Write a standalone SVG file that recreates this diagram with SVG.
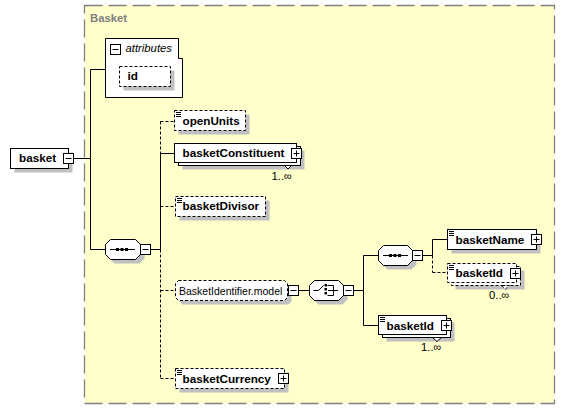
<svg xmlns="http://www.w3.org/2000/svg" width="565" height="410" viewBox="0 0 565 410">
<style>
.bg{fill:#ffffff}
.grp{fill:#ffffcc;stroke:#808080;stroke-width:1.3;stroke-dasharray:18 6}
.box{fill:#ffffff;stroke:#000000;stroke-width:1}
.dbox{fill:#ffffff;stroke:#000000;stroke-width:1;stroke-dasharray:3 2}
.sh{fill:#c0c0c0}
.ln{fill:none;stroke:#000000;stroke-width:1}
.dln{fill:none;stroke:#000000;stroke-width:1;stroke-dasharray:3 2}
.t{font-family:"Liberation Sans",Arial,sans-serif;font-size:11.7px;font-weight:bold;fill:#000000}
.tn{font-family:"Liberation Sans",Arial,sans-serif;font-size:10.5px;fill:#000000}
.tc{font-family:"Liberation Sans",Arial,sans-serif;font-size:11.3px;fill:#000000}
.ti{font-family:"Liberation Sans",Arial,sans-serif;font-size:11.3px;font-style:italic;fill:#000000}
.tg{font-family:"Liberation Sans",Arial,sans-serif;font-size:11.3px;font-weight:bold;fill:#808080}
.dot{fill:#000000}
</style>
<defs>
<g id="minus"><rect x="0.5" y="0.5" width="10" height="10" fill="#ffffff" stroke="#000000"/><path d="M2.5,5.5H8.5" stroke="#000000"/></g>
<g id="plus"><rect x="0.5" y="0.5" width="10" height="10" fill="#ffffff" stroke="#000000"/><path d="M2.5,5.5H8.5M5.5,2.5V8.5" stroke="#000000"/></g>
<g id="lines"><rect x="0" y="0" width="5" height="1" fill="#000000"/><rect x="0" y="2" width="5" height="1" fill="#000000"/><rect x="0" y="4" width="5" height="1" fill="#000000"/></g>
<g id="seqsym"><path d="M0,0.5H25" stroke="#000000"/><rect x="6" y="-1" width="3" height="3" fill="#000000"/><rect x="10.5" y="-1" width="3" height="3" fill="#000000"/><rect x="15" y="-1" width="3" height="3" fill="#000000"/></g>
</defs>
<rect class="bg" x="0" y="0" width="565" height="410"/>
<g id="group-Basket">
<rect class="grp" x="84.5" y="5.5" width="470" height="398"/>
<text class="tg" x="90" y="22">Basket</text>
</g>
<g id="connectors">
<path class="ln" d="M73.5,158.5H90.5M90.5,69.5V249.5M90.5,69.5H105.5M90.5,249.5H105.5"/>
<path class="ln" d="M150.5,249.5H160.5M160.5,153.5V249.5M160.5,153.5H174.5"/>
<path class="dln" d="M160.5,121.5V153.5M160.5,121.5H174.5M160.5,249.5V378.5M160.5,206.5H175.5M160.5,290.5H175.5M160.5,378.5H175.5"/>
<path class="ln" d="M298.5,290.5H309.5M353.5,290.5H363.5M363.5,255.5V325.5M363.5,255.5H378.5M363.5,325.5H378.5"/>
<path class="ln" d="M422.5,255.5H432.5M432.5,239.5V255.5M432.5,239.5H447.5"/>
<path class="dln" d="M432.5,255.5V272.5M432.5,272.5H447.5"/>
</g>
<g id="node-basket">
<rect class="sh" x="14.5" y="152.5" width="58" height="20"/>
<rect class="box" x="10.5" y="148.5" width="58" height="20"/>
<text class="t" x="19" y="162">basket</text>
<use href="#minus" x="63" y="153"/>
</g>
<g id="node-attributes">
<path class="box" d="M105.5,38.5H178.5V58.5H182.5V97.5H105.5Z"/>
<use href="#minus" x="110" y="44"/>
<text class="ti" x="125.5" y="52">attributes</text>
<rect class="sh" x="123.5" y="70.5" width="51" height="20"/>
<rect class="dbox" x="119.5" y="66.5" width="51" height="20"/>
<text class="t" x="127.5" y="80">id</text>
</g>
<g id="node-sequence">
<path class="sh" d="M114.5,243.5H139.5L144.5,248.5V258.5L139.5,263.5H114.5L109.5,258.5V248.5Z"/>
<path class="box" d="M110.5,239.5H135.5L140.5,244.5V254.5L135.5,259.5H110.5L105.5,254.5V244.5Z"/>
<use href="#seqsym" x="110" y="249"/>
<use href="#minus" x="140" y="244"/>
</g>
<g id="node-openUnits">
<rect class="sh" x="178.5" y="114.5" width="71" height="20"/>
<rect class="dbox" x="174.5" y="110.5" width="71" height="20"/>
<use href="#lines" x="176" y="112"/>
<text class="t" x="182.5" y="124.5">openUnits</text>
</g>
<g id="node-basketConstituent">
<rect class="sh" x="182.5" y="150.5" width="122" height="19"/>
<rect class="box" x="178.5" y="146.5" width="122" height="19"/>
<rect class="box" x="174.5" y="143.5" width="122" height="19"/>
<polygon class="box" points="284.5,165.5 288,169 291.5,165.5"/>
<use href="#plus" x="291" y="148"/>
<text class="t" x="182.5" y="157">basketConstituent</text>
<text class="tc" x="271.5" y="180">1..∞</text>
</g>
<g id="node-basketDivisor">
<rect class="sh" x="179.5" y="200.5" width="90" height="20"/>
<rect class="dbox" x="175.5" y="196.5" width="90" height="20"/>
<use href="#lines" x="177" y="198"/>
<text class="t" x="182.5" y="210">basketDivisor</text>
</g>
<g id="node-BasketIdentifier.model">
<path class="sh" d="M182.5,284.5H288.5L291.5,287.5V301.5L288.5,304.5H182.5L179.5,301.5V287.5Z"/>
<path class="dbox" d="M178.5,280.5H284.5L287.5,283.5V297.5L284.5,300.5H178.5L175.5,297.5V283.5Z"/>
<text class="tn" x="179" y="294.5">BasketIdentifier.model</text>
<use href="#minus" x="288" y="285"/>
</g>
<g id="node-choice">
<path class="sh" d="M318.5,284.5H342.5L347.5,289.5V299.5L342.5,304.5H318.5L313.5,299.5V289.5Z"/>
<path class="box" d="M314.5,280.5H338.5L343.5,285.5V295.5L338.5,300.5H314.5L309.5,295.5V285.5Z"/>
<path class="ln" d="M313.5,290.5H318.5L323.5,285.5M327.5,285.5H333.5V295.5H327.5M328,290.5H338"/>
<rect class="dot" x="324.5" y="284" width="2.5" height="2.5"/>
<rect class="dot" x="324.5" y="288" width="2.5" height="2.5"/>
<rect class="dot" x="324.5" y="292" width="2.5" height="2.5"/>
<use href="#minus" x="343" y="285"/>
</g>
<g id="node-sequence2">
<path class="sh" d="M387.5,249.5H411.5L416.5,254.5V264.5L411.5,269.5H387.5L382.5,264.5V254.5Z"/>
<path class="box" d="M383.5,245.5H407.5L412.5,250.5V260.5L407.5,265.5H383.5L378.5,260.5V250.5Z"/>
<use href="#seqsym" x="383" y="255"/>
<use href="#minus" x="412" y="250"/>
</g>
<g id="node-basketName">
<rect class="sh" x="451.5" y="233.5" width="89" height="20"/>
<rect class="box" x="447.5" y="229.5" width="89" height="20"/>
<use href="#lines" x="449" y="231"/>
<text class="t" x="455.5" y="243.5">basketName</text>
<use href="#plus" x="531" y="234"/>
</g>
<g id="node-basketId-optional">
<rect class="sh" x="455.5" y="270.5" width="69" height="19"/>
<rect class="dbox" x="451.5" y="266.5" width="69" height="19"/>
<rect class="dbox" x="447.5" y="263.5" width="69" height="19"/>
<polygon class="dbox" points="501.5,285.5 505.5,289 509.5,285.5"/>
<use href="#lines" x="449" y="265"/>
<text class="t" x="455.5" y="277">basketId</text>
<use href="#plus" x="510" y="268"/>
<text class="tc" x="489" y="298.5">0..∞</text>
</g>
<g id="node-basketId">
<rect class="sh" x="386.5" y="322.5" width="68" height="19"/>
<rect class="box" x="382.5" y="318.5" width="68" height="19"/>
<rect class="box" x="378.5" y="315.5" width="68" height="19"/>
<polygon class="box" points="432.5,337.5 437,341.5 441.5,337.5"/>
<use href="#lines" x="380" y="317"/>
<text class="t" x="386.5" y="329.5">basketId</text>
<use href="#plus" x="441" y="320"/>
<text class="tc" x="421" y="351">1..∞</text>
</g>
<g id="node-basketCurrency">
<rect class="sh" x="179.5" y="372.5" width="109" height="20"/>
<rect class="dbox" x="175.5" y="368.5" width="109" height="20"/>
<use href="#lines" x="177" y="370"/>
<text class="t" x="182.5" y="383">basketCurrency</text>
<use href="#plus" x="278" y="373"/>
</g>
</svg>
